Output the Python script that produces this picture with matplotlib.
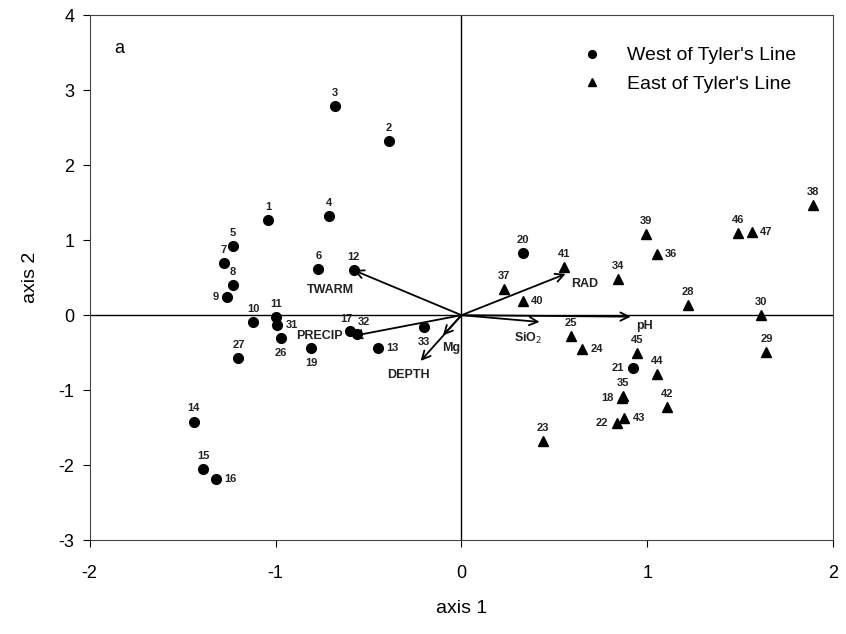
import matplotlib
matplotlib.use("Agg")
import matplotlib.pyplot as plt

plt.rcParams['font.family'] = ['Liberation Sans', 'DejaVu Sans']
plt.rcParams['axes.unicode_minus'] = False

# sites west of Tyler's line (circles)
west_ids = [1, 2, 3, 4, 5, 6, 7, 8, 9, 10, 11, 12, 13, 14, 15, 16, 17, 19,
            20, 21, 26, 27, 31, 32, 33]
west_x = [-1.04, -0.39, -0.68, -0.71, -1.23, -0.77, -1.28, -1.23, -1.26, -1.12,
          -1.00, -0.58, -0.45, -1.44, -1.39, -1.32, -0.60, -0.81,
          0.33, 0.92, -0.97, -1.20, -0.99, -0.56, -0.20]
west_y = [1.27, 2.32, 2.79, 1.32, 0.92, 0.61, 0.69, 0.40, 0.24, -0.09,
          -0.03, 0.60, -0.44, -1.42, -2.05, -2.18, -0.21, -0.44,
          0.83, -0.71, -0.31, -0.57, -0.13, -0.25, -0.16]

# sites east of Tyler's line (triangles)
east_ids = [18, 22, 23, 24, 25, 28, 29, 30, 34, 35, 36, 37, 38, 39, 40, 41,
            42, 43, 44, 45, 46, 47]
east_x = [0.865, 0.835, 0.44, 0.65, 0.59, 1.22, 1.64, 1.61, 0.84, 0.87, 1.05,
          0.23, 1.89, 0.99, 0.33, 0.55, 1.105, 0.875, 1.05, 0.945, 1.49, 1.56]
east_y = [-1.10, -1.44, -1.68, -0.45, -0.28, 0.13, -0.49, 0.0, 0.48, -1.08,
          0.81, 0.35, 1.47, 1.08, 0.19, 0.64, -1.23, -1.37, -0.79, -0.51,
          1.09, 1.11]

# environmental vectors
env_names = ['TWARM', 'PRECIP', 'Mg', 'DEPTH', 'RAD', 'pH', 'SiO$_2$']
env_x = [-0.58, -0.59, -0.10, -0.22, 0.56, 0.91, 0.42]
env_y = [0.60, -0.28, -0.27, -0.61, 0.55, -0.02, -0.09]

# where each site number sits relative to its marker
right_lab = {31, 13, 16, 36, 47, 40, 24, 43}
left_lab = {9, 18, 21, 22}
below_lab = {26, 19, 33}
upleft_lab = {17}
upright_lab = {32}

# label offsets (points) for the vector names
env_off = {'TWARM': (-17, -14), 'PRECIP': (-23, 0), 'Mg': (6, -9),
           'DEPTH': (-9, -10), 'RAD': (14, -7), 'pH': (10, -7),
           'SiO$_2$': (-8, -12)}

fig, ax = plt.subplots(figsize=(8.46, 6.34), dpi=100)
fig.subplots_adjust(left=0.106, right=0.985, top=0.976, bottom=0.148)

ax.axhline(0, color='black', lw=1, zorder=1)
ax.axvline(0, color='black', lw=1, zorder=1)

ax.plot(west_x, west_y, 'o', color='black', ms=7, ls='none',
        label="West of Tyler's Line", zorder=3)
ax.plot(east_x, east_y, '^', color='black', ms=7, ls='none',
        label="East of Tyler's Line", zorder=3)


def site_label(i, x, y):
    if i in right_lab:
        off, ha, va = (6, 0), 'left', 'center'
    elif i in left_lab:
        off, ha, va = (-6, 0), 'right', 'center'
    elif i in below_lab:
        off, ha, va = (0, -7), 'center', 'top'
    elif i in upleft_lab:
        off, ha, va = (2, 5), 'right', 'bottom'
    elif i in upright_lab:
        off, ha, va = (0, 5), 'left', 'bottom'
    else:
        off, ha, va = (0, 6), 'center', 'bottom'
    ax.annotate(str(i), (x, y), xytext=off, textcoords='offset points',
                ha=ha, va=va, fontsize=8, fontweight='bold', color='#222222')


for i, x, y in zip(west_ids, west_x, west_y):
    site_label(i, x, y)
for i, x, y in zip(east_ids, east_x, east_y):
    site_label(i, x, y)

for name, x, y in zip(env_names, env_x, env_y):
    ax.annotate('', xy=(x, y), xytext=(0, 0),
                arrowprops=dict(arrowstyle='->,head_length=0.6,head_width=0.3',
                                color='black', lw=1.3, shrinkA=0, shrinkB=0),
                zorder=2)
    ax.annotate(name, (x, y), xytext=env_off[name], textcoords='offset points',
                ha='center', va='center', fontsize=9, fontweight='bold',
                color='#222222')

ax.text(-1.87, 3.55, 'a', fontsize=13, ha='left', va='center')

ax.set_xlim(-2, 2)
ax.set_ylim(-3, 4)
ax.set_xticks([-2, -1, 0, 1, 2])
ax.set_yticks(range(-3, 5))
ax.tick_params(direction='out', labelsize=13, length=5)
ax.tick_params(axis='x', pad=13)
ax.tick_params(axis='y', pad=6)
for s in ax.spines.values():
    s.set_color('#444444')
ax.set_xlabel('axis 1', fontsize=14, labelpad=13)
ax.set_ylabel('axis 2', fontsize=14, labelpad=14)

ax.legend(loc='upper left', bbox_to_anchor=(0.662, 0.94), frameon=False,
          fontsize=14, handlelength=1.0, handletextpad=1.3, borderpad=0,
          borderaxespad=0, markerscale=0.8, labelspacing=0.55)

fig.savefig('out.png', dpi=100)
